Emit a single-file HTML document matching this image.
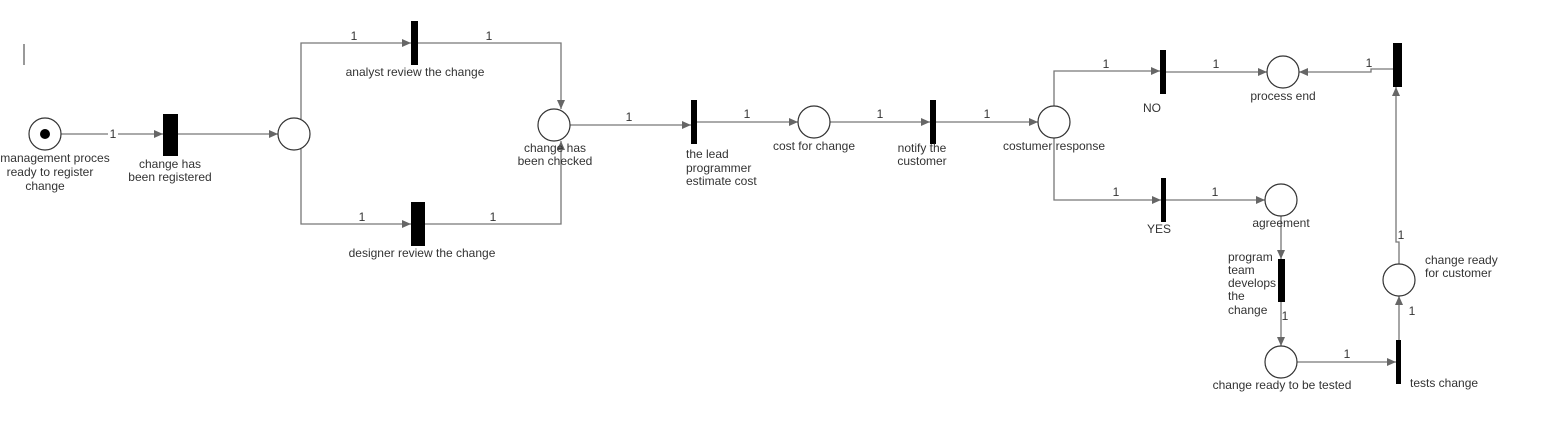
<!DOCTYPE html>
<html><head><meta charset="utf-8"><style>
html,body{margin:0;padding:0;background:#fff;}
svg{display:block;font-family:"Liberation Sans",Arial,sans-serif;font-size:12px;}
text{fill:#333;}
.e{stroke:#777;stroke-width:1.3;fill:none;}
.p{fill:#fff;stroke:#333;stroke-width:1.2;}
</style></head><body>
<svg width="1543" height="447" viewBox="0 0 1543 447">
<defs><marker id="a" markerWidth="10" markerHeight="10" refX="9" refY="5" orient="auto" markerUnits="userSpaceOnUse"><path d="M0,1 L9,5 L0,9 z" fill="#666"/></marker></defs>
<line x1="24" y1="44" x2="24" y2="65" stroke="#333" stroke-width="1"/>
<!-- edges -->
<path class="e" d="M61,134 H163" marker-end="url(#a)"/>
<path class="e" d="M178,134 H278" marker-end="url(#a)"/>
<path class="e" d="M301,119 V43 H411" marker-end="url(#a)"/>
<path class="e" d="M418,43 H561 V109" marker-end="url(#a)"/>
<path class="e" d="M301,149 V224 H411" marker-end="url(#a)"/>
<path class="e" d="M425,224 H561 V141" marker-end="url(#a)"/>
<path class="e" d="M570,125 H691" marker-end="url(#a)"/>
<path class="e" d="M697,122 H798" marker-end="url(#a)"/>
<path class="e" d="M830,122 H930" marker-end="url(#a)"/>
<path class="e" d="M936,122 H1038" marker-end="url(#a)"/>
<path class="e" d="M1054,106 V71 H1160" marker-end="url(#a)"/>
<path class="e" d="M1166,72 H1267" marker-end="url(#a)"/>
<path class="e" d="M1393,69 H1371 V72 H1299" marker-end="url(#a)"/>
<path class="e" d="M1054,138 V200 H1161" marker-end="url(#a)"/>
<path class="e" d="M1166,200 H1265" marker-end="url(#a)"/>
<path class="e" d="M1281,216 V259" marker-end="url(#a)"/>
<path class="e" d="M1281,302 V346" marker-end="url(#a)"/>
<path class="e" d="M1297,362 H1396" marker-end="url(#a)"/>
<path class="e" d="M1399,340 V296" marker-end="url(#a)"/>
<path class="e" d="M1399,264 V242 H1396 V87" marker-end="url(#a)"/>
<!-- places -->
<circle class="p" cx="45" cy="134" r="16"/><circle cx="45" cy="134" r="5" fill="#000"/>
<circle class="p" cx="294" cy="134" r="16"/>
<circle class="p" cx="554" cy="125" r="16"/>
<circle class="p" cx="814" cy="122" r="16"/>
<circle class="p" cx="1054" cy="122" r="16"/>
<circle class="p" cx="1283" cy="72" r="16"/>
<circle class="p" cx="1281" cy="200" r="16"/>
<circle class="p" cx="1281" cy="362" r="16"/>
<circle class="p" cx="1399" cy="280" r="16"/>
<!-- transitions -->
<rect x="163" y="114" width="15" height="42" fill="#000"/>
<rect x="411" y="21" width="7" height="44" fill="#000"/>
<rect x="411" y="202" width="14" height="44" fill="#000"/>
<rect x="691" y="100" width="6" height="44" fill="#000"/>
<rect x="930" y="100" width="6" height="44" fill="#000"/>
<rect x="1160" y="50" width="6" height="44" fill="#000"/>
<rect x="1161" y="178" width="5" height="44" fill="#000"/>
<rect x="1278" y="259" width="7" height="43" fill="#000"/>
<rect x="1396" y="340" width="5" height="44" fill="#000"/>
<rect x="1393" y="43" width="9" height="44" fill="#000"/>
<!-- weights -->
<g text-anchor="middle">
<rect x="108" y="128" width="10" height="12" fill="#fff"/><text x="113" y="138">1</text>
<text x="354" y="40">1</text><text x="489" y="40">1</text>
<text x="362" y="221">1</text><text x="493" y="221">1</text>
<text x="629" y="121">1</text><text x="747" y="118">1</text>
<text x="880" y="118">1</text><text x="987" y="118">1</text>
<text x="1106" y="68">1</text><text x="1216" y="68">1</text>
<text x="1369" y="67">1</text>
<text x="1116" y="196">1</text><text x="1215" y="196">1</text>
<text x="1285" y="320">1</text><text x="1347" y="358">1</text>
<text x="1412" y="315">1</text><text x="1401" y="239">1</text>
<!-- labels -->
<text x="55" y="162">management proces</text>
<text x="50" y="176">ready to register</text>
<text x="45" y="190">change</text>
<text x="170" y="168">change has</text>
<text x="170" y="181">been registered</text>
<text x="415" y="76">analyst review the change</text>
<text x="422" y="257">designer review the change</text>
<text x="555" y="152">change has</text>
<text x="555" y="165">been checked</text>
<text x="814" y="150">cost for change</text>
<text x="922" y="152">notify the</text>
<text x="922" y="165">customer</text>
<text x="1054" y="150">costumer response</text>
<text x="1152" y="112">NO</text>
<text x="1283" y="100">process end</text>
<text x="1159" y="233">YES</text>
<text x="1281" y="227">agreement</text>
<text x="1282" y="389">change ready to be tested</text>
</g>
<text x="686" y="158">the lead</text>
<text x="686" y="172">programmer</text>
<text x="686" y="185">estimate cost</text>
<text x="1228" y="261">program</text>
<text x="1228" y="274">team</text>
<text x="1228" y="287">develops</text>
<text x="1228" y="300">the</text>
<text x="1228" y="314">change</text>
<text x="1425" y="264">change ready</text>
<text x="1425" y="277">for customer</text>
<text x="1410" y="387">tests change</text>
</svg>
</body></html>
